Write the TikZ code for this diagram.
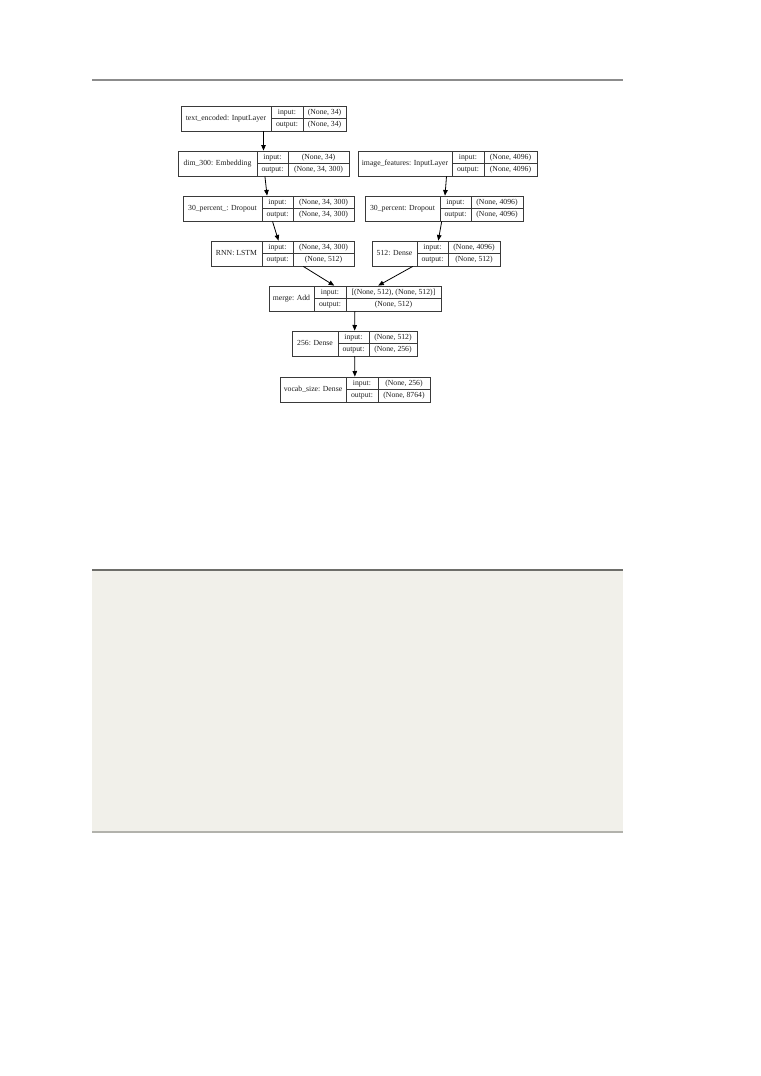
\documentclass[tikz,border=0pt]{standalone}
\usepackage{fontspec}
\setmainfont{Liberation Serif}
\usetikzlibrary{arrows.meta,fit}

\definecolor{boxline}{HTML}{3A3A3A}
\definecolor{inktext}{HTML}{1E1E1E}
\definecolor{rulegray}{HTML}{8C8C8C}
\definecolor{panelfill}{HTML}{F1F0EA}
\definecolor{paneltop}{HTML}{6E6E6A}
\definecolor{panelbottom}{HTML}{B2B2AC}

\tikzset{
  layerbox/.style={draw=boxline, line width=0.6pt, inner sep=0pt, rectangle},
  cellline/.style={draw=boxline, line width=0.6pt},
  celltext/.style={inner sep=0pt, text height=3.9pt, text depth=1.1pt, text=inktext,
    font=\fontsize{5.8pt}{7pt}\selectfont},
  flow/.style={draw=black, line width=0.6pt, -{Triangle[length=4.2pt,width=3.4pt]}},
}

% one Keras layer record: id, left, first divider, second divider, right, top, name, input, output
\newcommand{\keraslayer}[9]{%
  \node[layerbox, fit={(#2,#6) (#5,#6+25)}] (#1) {};
  \draw[cellline] (#3,#6) -- (#3,#6+25) (#4,#6) -- (#4,#6+25) (#3,#6+12.5) -- (#5,#6+12.5);
  \node[celltext] (#1-name) at ({(#2+#3)/2},#6+12.5) {#7};
  \node[celltext] (#1-inl)  at ({(#3+#4)/2},#6+6.25) {input:};
  \node[celltext] (#1-outl) at ({(#3+#4)/2},#6+18.75) {output:};
  \node[celltext] (#1-in)   at ({(#4+#5)/2},#6+6.25) {#8};
  \node[celltext] (#1-out)  at ({(#4+#5)/2},#6+18.75) {#9};
}

\begin{document}
\begin{tikzpicture}[x=0.75pt, y=-0.75pt]
  \useasboundingbox (0,0) rectangle (761,1076);
  \fill[white] (0,0) rectangle (761,1076);

  % page rule above the model graph
  \draw[rulegray, line width=1.1pt] (92,80) -- (623,80);

  % layers
  \keraslayer{txt}{181}{271}{303}{346}{106}{text\_encoded: InputLayer}{(None, 34)}{(None, 34)}
  \keraslayer{emb}{178}{257}{288}{349}{151}{dim\_300: Embedding}{(None, 34)}{(None, 34, 300)}
  \keraslayer{img}{358}{452}{484}{537}{151}{image\_features: InputLayer}{(None, 4096)}{(None, 4096)}
  \keraslayer{dropa}{183}{262}{293}{354}{196}{30\_percent\_: Dropout}{(None, 34, 300)}{(None, 34, 300)}
  \keraslayer{dropb}{365}{440}{471}{523}{196}{30\_percent: Dropout}{(None, 4096)}{(None, 4096)}
  \keraslayer{lstm}{211}{262}{293}{354}{241}{RNN: LSTM}{(None, 34, 300)}{(None, 512)}
  \keraslayer{dense}{372}{417}{448}{500}{241}{512: Dense}{(None, 4096)}{(None, 512)}
  \keraslayer{merge}{269}{314}{346}{441}{286}{merge: Add}{[(None, 512), (None, 512)]}{(None, 512)}
  \keraslayer{dtwo}{292}{338}{369}{417}{331}{256: Dense}{(None, 512)}{(None, 256)}
  \keraslayer{vocab}{280}{346}{378}{430}{377}{vocab\_size: Dense}{(None, 256)}{(None, 8764)}

  % data flow
  \draw[flow] (txt) -- (emb);
  \draw[flow] (emb) -- (dropa);
  \draw[flow] (img) -- (dropb);
  \draw[flow] (dropa) -- (lstm);
  \draw[flow] (dropb) -- (dense);
  \draw[flow] (lstm) -- (merge);
  \draw[flow] (dense) -- (merge);
  \draw[flow] (merge) -- (dtwo);
  \draw[flow] (dtwo) -- (vocab);

  % shaded panel below
  \fill[panelfill] (92,570) rectangle (623,832);
  \draw[paneltop, line width=0.8pt] (92,570) -- (623,570);
  \draw[panelbottom, line width=1.6pt] (92,832) -- (623,832);
\end{tikzpicture}
\end{document}
